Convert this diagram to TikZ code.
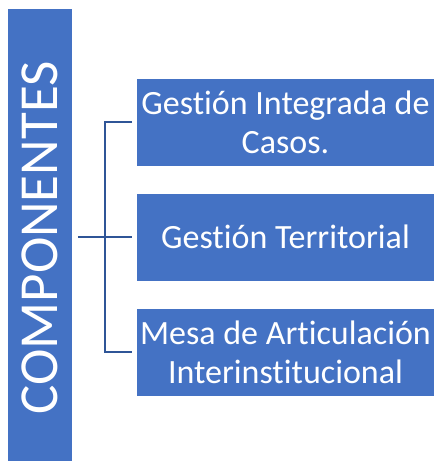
\documentclass[tikz,border=0pt]{standalone}
\usepackage{fontspec}
\setmainfont{Carlito}[Ligatures=NoCommon]
\usetikzlibrary{positioning, calc}

\definecolor{accentblue}{HTML}{4472C4}
\definecolor{linkblue}{HTML}{2F5597}

\begin{document}
\begin{tikzpicture}[
    x=1pt, y=-1pt,
    bar_style/.style={fill=accentblue, draw=white, line width=0.6pt, minimum width=65pt, minimum height=454pt, inner sep=0pt},
    bar_text_style/.style={rotate=90, text=white, font=\fontsize{55}{58}\selectfont},
    box_style/.style={fill=accentblue, draw=white, line width=0.6pt, minimum width=298pt, minimum height=88pt, inner sep=1pt, text=white, align=center, font=\fontsize{34}{39}\selectfont},
    link_style/.style={draw=linkblue, line width=2pt}
]

% fixed canvas
\useasboundingbox (0,0) rectangle (438,461);

% LEFT BAR
\node[bar_style] (bar) at (40,235) {};
\node[bar_text_style] (bar_text) at (40,238) {COMPONENTES};

% RIGHT COLUMN - COMPONENT BOXES
\node[box_style] (box1) at (285.5,122) {Gestión Integrada de\\Casos.};
\node[box_style] (box2) at (285.5,237) {Gestión Territorial};
\node[box_style] (box3) at (285.5,352) {Mesa de Articulación\\Interinstitucional};

% BRACKET CONNECTOR
\coordinate (hub) at (105,237);
\draw[link_style] ([xshift=5pt]bar.east |- hub) -- (hub);
\draw[link_style] ([xshift=-4pt]box1.west) -- (hub |- box1) -- (hub |- box3) -- ([xshift=-4pt]box3.west);
\draw[link_style] (hub) -- ([xshift=-4pt]box2.west);

\end{tikzpicture}
\end{document}
